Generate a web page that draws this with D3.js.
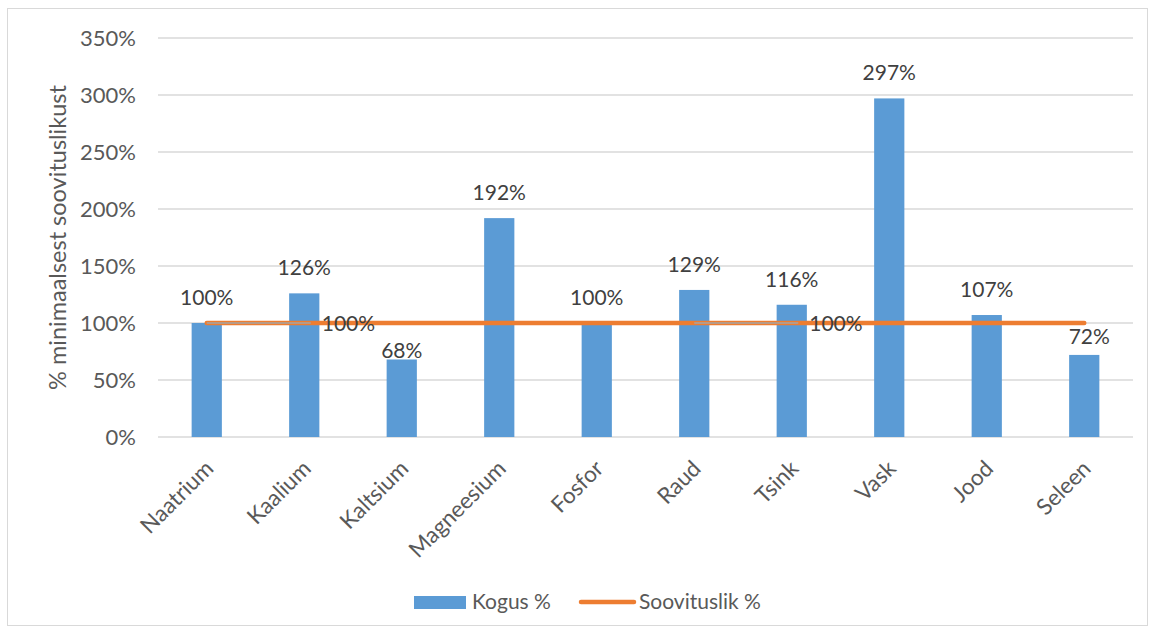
<!DOCTYPE html>
<html><head><meta charset="utf-8">
<script src="https://cdn.jsdelivr.net/npm/d3@7"></script>
<style>
body{margin:0;background:#fff;}
text{font-family:Lato,"Liberation Sans",sans-serif;}
</style></head>
<body><svg id="c" width="1150" height="633"></svg>
<script>
const categories = ["Naatrium","Kaalium","Kaltsium","Magneesium","Fosfor","Raud","Tsink","Vask","Jood","Seleen"];
const kogus = [1.00,1.26,0.68,1.92,1.00,1.29,1.16,2.97,1.07,0.72];
const soovituslik = [1,1,1,1,1,1,1,1,1,1];
const yTicks = [0,0.5,1,1.5,2,2.5,3,3.5];
const seriesNames = ["Kogus %","Soovituslik %"];
const yTitle = "% minimaalsest soovituslikust";
const lineLabelIdx = [0,5];
// label nudges (px) for manually moved bar labels
const labelShiftY = [0,0,17,0,0,0,0,0,0,7];
const labelShiftX = [0,0,0,0,0,0,0,0,0,5];

const svg = d3.select("#c");
const FS = 21;
svg.append("rect").attr("x",7.5).attr("y",8.5).attr("width",1140).attr("height",617)
  .attr("fill","#fff").attr("stroke","#D9D9D9").attr("stroke-width",1);

const x = d3.scaleBand().domain(categories).range([158,1133]).paddingInner(0.69).paddingOuter(0.345);
const y = d3.scaleLinear().domain([0,3.5]).range([437,38]);
const xc = d => x(d) + x.bandwidth()/2;

// grid
svg.append("g").selectAll("line").data(yTicks).join("line")
  .attr("x1",158).attr("x2",1133).attr("y1",d=>y(d)).attr("y2",d=>y(d))
  .attr("stroke","#D9D9D9").attr("stroke-width",1.3);

// y axis labels
const fmt = d => Math.round(d*100) + "%";
const yAxis = d3.axisLeft(y).tickValues(yTicks).tickFormat(fmt).tickSize(0).tickPadding(0);
const ya = svg.append("g").attr("transform","translate(136,0)").call(yAxis);
ya.select(".domain").remove();
ya.selectAll("text").attr("font-size",22).attr("fill","#595959").attr("font-family","Lato");

// y title
svg.append("text").attr("transform","translate(66,237.5) rotate(-90)")
  .attr("text-anchor","middle").attr("font-size",23.5).attr("fill","#595959").text(yTitle);

// bars
svg.append("g").selectAll("rect").data(kogus).join("rect")
  .attr("x",(d,i)=>x(categories[i])).attr("width",x.bandwidth())
  .attr("y",d=>y(d)).attr("height",d=>y(0)-y(d)).attr("fill","#5B9BD5");

// bar labels
svg.append("g").selectAll("text").data(kogus).join("text")
  .attr("x",(d,i)=>xc(categories[i])+labelShiftX[i])
  .attr("y",(d,i)=>y(d)-18+labelShiftY[i])
  .attr("text-anchor","middle").attr("font-size",FS).attr("fill","#404040").text(fmt);

// line
const line = d3.line().x((d,i)=>xc(categories[i])).y(d=>y(d));
svg.append("path").datum(soovituslik).attr("d",line).attr("fill","none")
  .attr("stroke","#ED7D31").attr("stroke-width",4.5).attr("stroke-linecap","round");

// leader lines + line labels
lineLabelIdx.forEach(i=>{
  const px = xc(categories[i]), py = y(soovituslik[i]);
  svg.append("line").attr("x1",px).attr("x2",px+104).attr("y1",py).attr("y2",py)
    .attr("stroke","#A5A5A5").attr("stroke-width",1.5);
  svg.append("text").attr("x",px+115).attr("y",py+8).attr("font-size",FS)
    .attr("fill","#404040").text(fmt(soovituslik[i]));
});

// x labels
svg.append("g").selectAll("text").data(categories).join("text")
  .attr("transform",d=>`translate(${xc(d)+8},470) rotate(-45)`)
  .attr("text-anchor","end").attr("font-size",22.5).attr("fill","#595959").text(d=>d);

// legend
svg.append("rect").attr("x",414).attr("y",596).attr("width",52).attr("height",13).attr("fill","#5B9BD5");
svg.append("text").attr("x",472).attr("y",609).attr("font-size",FS).attr("fill","#595959").text(seriesNames[0]);
svg.append("line").attr("x1",581).attr("x2",634).attr("y1",602).attr("y2",602)
  .attr("stroke","#ED7D31").attr("stroke-width",4.5).attr("stroke-linecap","round");
svg.append("text").attr("x",639).attr("y",609).attr("font-size",FS).attr("fill","#595959").text(seriesNames[1]);
</script></body></html>
